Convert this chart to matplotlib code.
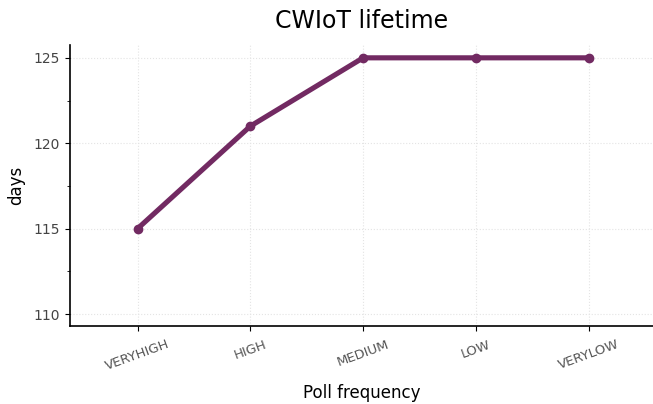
import numpy as np
import matplotlib.pyplot as plt
from matplotlib.ticker import MultipleLocator

categories = ['VERYHIGH', 'HIGH', 'MEDIUM', 'LOW', 'VERYLOW']
days = [115, 121, 125, 125, 125]

fig = plt.figure(figsize=(6.53, 4.04), dpi=100)
ax = fig.add_axes([0.107, 0.193, 0.893, 0.696])

x = np.arange(len(categories))
ax.plot(x, days, color='#722a62', linewidth=3.7, marker='o', markersize=6,
        solid_capstyle='round', zorder=3)

ax.set_xlim(-0.6, 4.57)
ax.set_ylim(109.3, 125.76)
ax.set_xticks(x)
ax.set_xticklabels(categories, rotation=20, color='#555555', fontsize=9.5)
ax.yaxis.set_major_locator(MultipleLocator(5))
ax.yaxis.set_minor_locator(MultipleLocator(2.5))
ax.tick_params(axis='y', labelcolor='#444444', labelsize=10)
ax.tick_params(axis='x', pad=5)
ax.tick_params(which='minor', length=2)

ax.grid(True, color='#e4e4e4', linewidth=0.8, linestyle=':')
ax.set_axisbelow(True)
for s in ['top', 'right']:
    ax.spines[s].set_visible(False)
for s in ['left', 'bottom']:
    ax.spines[s].set_linewidth(1.2)

ax.set_xlabel('Poll frequency', fontsize=12, labelpad=8)
ax.set_ylabel('days', fontsize=12, labelpad=6)
ax.set_title('CWIoT lifetime', fontsize=17, pad=12)

fig.savefig('out.png', dpi=100)
